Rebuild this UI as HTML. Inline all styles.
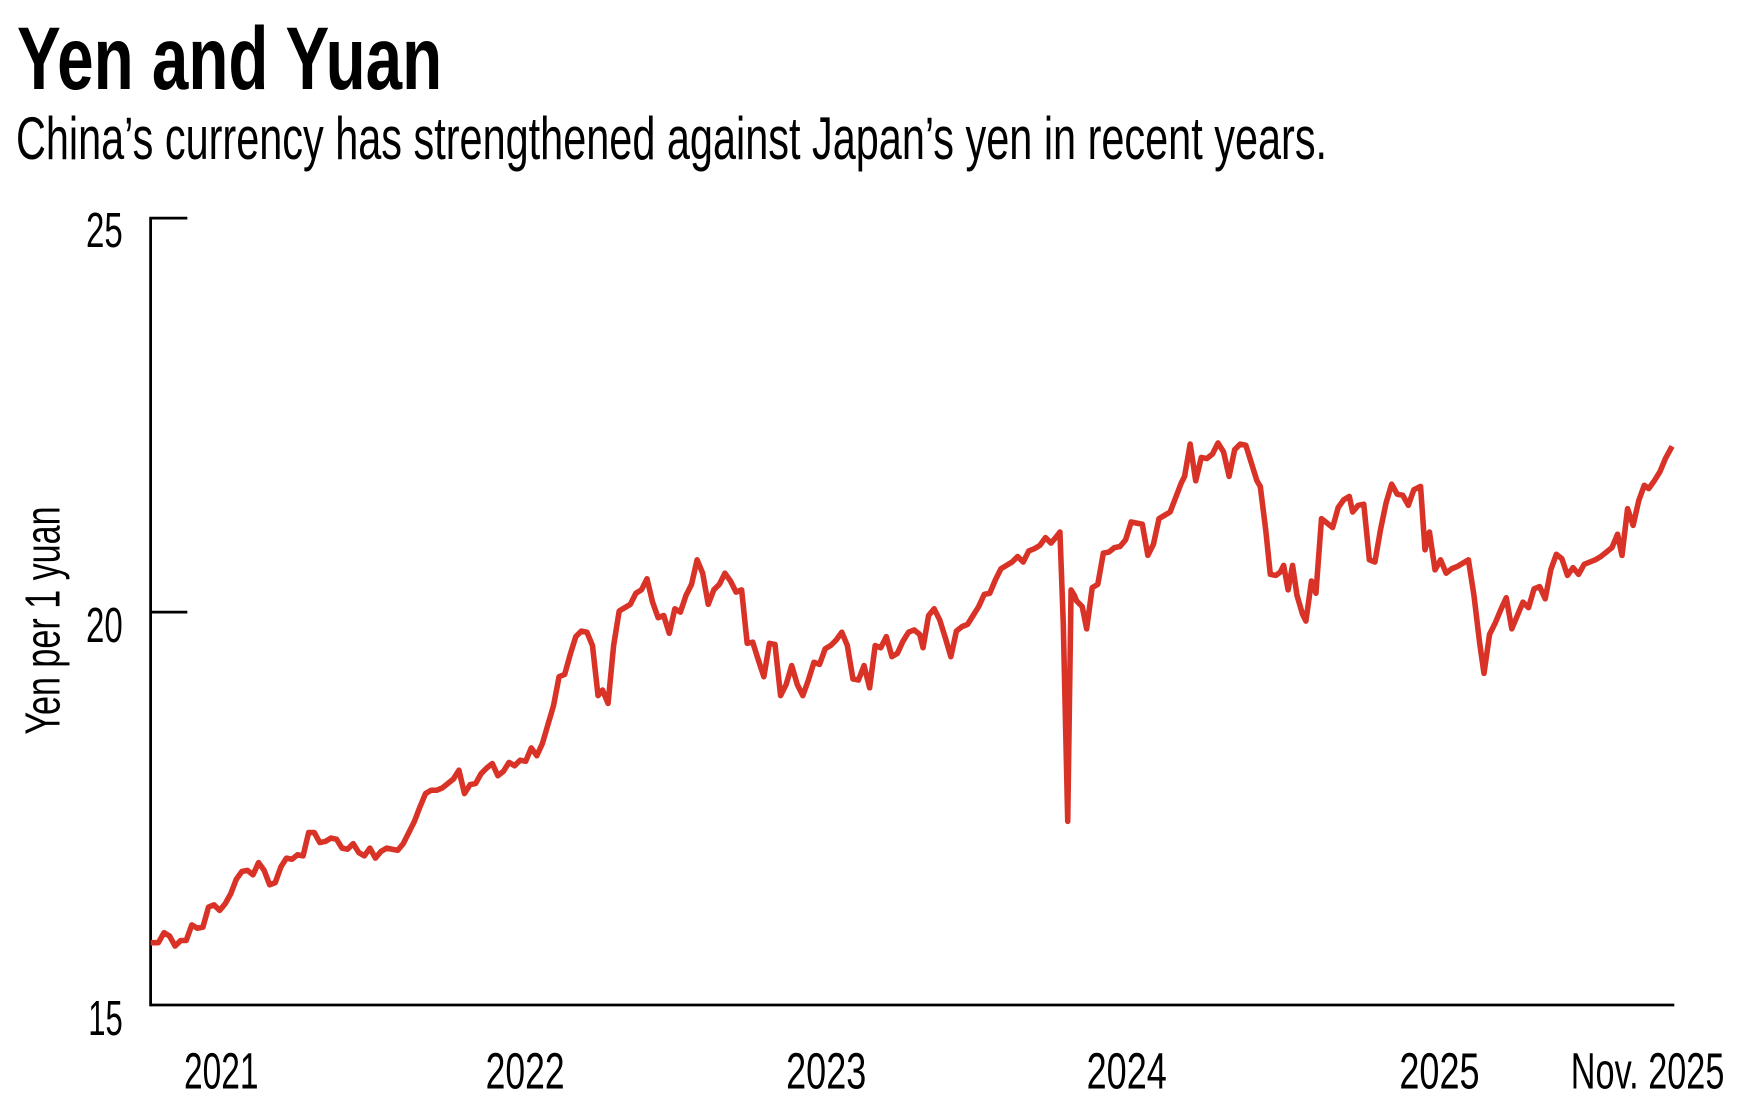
<!DOCTYPE html>
<html><head><meta charset="utf-8"><style>
html,body{margin:0;padding:0;background:#fff;}
svg{display:block;}
text{font-family:"Liberation Sans",sans-serif;fill:#000;}
</style></head><body>
<svg width="1737" height="1113" viewBox="0 0 1560 1000" xmlns="http://www.w3.org/2000/svg">
<text x="15" y="80" font-size="80" font-weight="bold" textLength="382" lengthAdjust="spacingAndGlyphs">Yen and Yuan</text>
<text x="14" y="143" font-size="54" textLength="1178" lengthAdjust="spacingAndGlyphs">China’s currency has strengthened against Japan’s yen in recent years.</text>
<line x1="135" y1="195" x2="135" y2="904" stroke="#000" stroke-width="2.5"/>
<line x1="134" y1="196" x2="168" y2="196" stroke="#000" stroke-width="2.5"/>
<line x1="134" y1="550" x2="168" y2="550" stroke="#000" stroke-width="2.5"/>
<line x1="134" y1="903" x2="1504" y2="903" stroke="#000" stroke-width="2.5"/>
<text x="77" y="222" font-size="44" textLength="33" lengthAdjust="spacingAndGlyphs">25</text>
<text x="77" y="577" font-size="44" textLength="33" lengthAdjust="spacingAndGlyphs">20</text>
<text x="79" y="930" font-size="44" textLength="31" lengthAdjust="spacingAndGlyphs">15</text>
<text transform="translate(53,660) rotate(-90)" font-size="44" textLength="205" lengthAdjust="spacingAndGlyphs">Yen per 1 yuan</text>
<g font-size="46">
<text x="165" y="978" textLength="67" lengthAdjust="spacingAndGlyphs">2021</text>
<text x="436" y="978" textLength="71" lengthAdjust="spacingAndGlyphs">2022</text>
<text x="706" y="978" textLength="72" lengthAdjust="spacingAndGlyphs">2023</text>
<text x="976" y="978" textLength="72" lengthAdjust="spacingAndGlyphs">2024</text>
<text x="1257" y="978" textLength="72" lengthAdjust="spacingAndGlyphs">2025</text>
<text x="1411" y="978" textLength="138" lengthAdjust="spacingAndGlyphs">Nov. 2025</text>
</g>
<polyline fill="none" stroke="#d93328" stroke-width="5" stroke-linejoin="round" points="135,847 142,847 147,838 152,841 157,850 162,845 167,845 172,831 177,834 182,833 187,815 192,813 197,818 202,812 207,803 212,790 217,783 222,782 227,786 232,775 237,782 242,795 247,793 252,779 257,771 262,772 267,768 272,769 277,748 282,748 287,757 292,756 297,753 302,754 307,762 312,763 317,758 322,766 327,769 332,762 337,771 342,765 347,762 352,763 357,764 362,758 367,748 372,738 377,725 382,713 387,710 392,710 397,708 402,704 407,700 412,692 417,713 422,705 427,704 432,695 437,690 442,686 447,697 452,693 457,685 462,688 467,683 472,684 477,672 482,679 487,668 492,651 497,634 502,608 507,606 512,588 517,572 522,567 527,568 532,580 537,625 541,620 546,632 551,580 556,549 561,546 566,543 571,533 576,530 581,520 586,541 591,555 596,553 601,569 606,547 611,550 616,535 621,525 626,503 631,515 636,543 641,530 646,525 651,515 656,522 661,532 666,530 671,578 676,577 681,593 686,608 691,578 696,579 701,625 706,615 711,598 716,615 721,625 726,611 731,595 736,597 741,583 746,580 751,575 756,568 761,580 766,610 771,611 776,598 781,618 786,580 791,582 796,572 801,590 806,587 811,576 816,568 821,566 826,570 829,582 834,553 839,547 844,557 849,573 854,590 859,567 864,563 869,561 874,553 879,545 884,534 889,533 894,521 899,511 904,508 909,505 914,500 919,505 924,495 929,493 934,490 939,483 944,488 949,482 952,478 955,560 959,738 962,530 965,535 967,540 972,545 976,565 981,528 986,525 991,497 996,496 1001,492 1006,491 1011,485 1016,469 1021,470 1026,471 1031,499 1036,489 1041,466 1046,463 1051,460 1056,447 1061,434 1064,428 1069,399 1074,432 1079,411 1084,412 1089,408 1094,398 1099,406 1104,428 1109,404 1114,399 1119,400 1124,416 1129,432 1132,437 1137,477 1141,516 1146,517 1150,514 1153,508 1157,530 1161,508 1165,535 1170,552 1173,558 1178,522 1182,533 1187,466 1192,470 1197,474 1202,456 1207,449 1212,446 1215,460 1220,454 1225,453 1230,503 1235,505 1240,476 1245,452 1250,435 1255,444 1260,445 1265,454 1270,440 1276,437 1280,494 1284,478 1289,512 1294,503 1299,515 1304,511 1309,509 1314,506 1319,503 1324,535 1329,577 1333,605 1338,570 1343,560 1348,548 1353,537 1358,565 1363,553 1368,541 1373,546 1378,529 1383,527 1388,538 1393,512 1398,498 1403,502 1408,517 1413,510 1418,516 1423,507 1428,505 1433,503 1438,500 1443,496 1448,492 1453,480 1457,499 1462,457 1467,472 1472,450 1477,436 1481,439 1486,432 1491,424 1496,412 1502,401"/>
</svg>
</body></html>
